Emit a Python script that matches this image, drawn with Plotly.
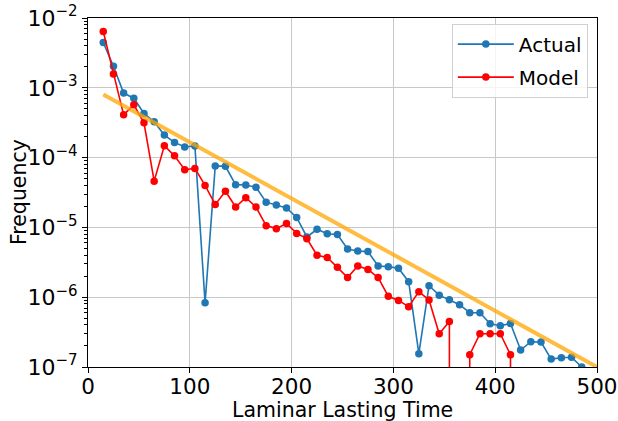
import numpy as np
import plotly.graph_objects as go

# Laminar lasting time bins (bin centres)
lasting_time = [15, 25, 35, 45, 55, 65, 75, 85, 95, 105,
                115, 125, 135, 145, 155, 165, 175, 185, 195, 205,
                215, 225, 235, 245, 255, 265, 275, 285, 295, 305,
                315, 325, 335, 345, 355, 365, 375, 385, 395, 405,
                415, 425, 435, 445, 455, 465, 475, 485]

# Observed frequency of each lasting time
actual_freq = [4.45e-3, 2.03e-3, 8.4e-4, 7.1e-4, 4.3e-4, 3.25e-4, 2.1e-4, 1.65e-4, 1.42e-4, 1.47e-4,
               8.3e-7, 7.6e-5, 7.5e-5, 4.1e-5, 4.05e-5, 3.75e-5, 2.3e-5, 2.1e-5, 1.9e-5, 1.39e-5,
               7.3e-6, 9.4e-6, 8.1e-6, 7.9e-6, 4.9e-6, 4.6e-6, 4.5e-6, 2.8e-6, 2.74e-6, 2.6e-6,
               1.67e-6, 1.55e-7, 1.46e-6, 1.07e-6, 9.2e-7, 7.8e-7, 6.0e-7, 6.0e-7, 4.16e-7, 3.9e-7,
               4.2e-7, 1.75e-7, 2.3e-7, 2.28e-7, 1.3e-7, 1.36e-7, 1.38e-7, 1.0e-7]

# Frequency predicted by the model
model_freq = [6.4e-3, 1.58e-3, 4.1e-4, 5.7e-4, 3.15e-4, 4.6e-5, 1.48e-4, 1.06e-4, 6.7e-5, 7.0e-5,
              4.0e-5, 2.12e-5, 3.3e-5, 1.96e-5, 2.67e-5, 1.96e-5, 1.06e-5, 9.6e-6, 1.14e-5, 8.2e-6,
              6.9e-6, 4.0e-6, 3.7e-6, 2.68e-6, 1.91e-6, 2.8e-6, 2.5e-6, 1.91e-6, 1.03e-6, 9.0e-7,
              7.3e-7, 1.2e-6, 9.1e-7, 3.0e-7, 4.5e-7, 0.0, 1.5e-7, 3.0e-7, 3.0e-7, 3.0e-7,
              1.5e-7, 0.0, 0.0, 0.0, 0.0, 0.0, 0.0, 0.0]

# Exponential decay fit (straight line on the log axis)
fit_time = [15, 500]
fit_freq = [8.0e-4, 1.0e-7]

x_ticks = [0, 100, 200, 300, 400, 500]
y_tick_exponents = [-7, -6, -5, -4, -3, -2]


def clip_nonpositive(values, floor=1e-300):
    # zero counts cannot be shown on a log axis; clip them far below the view
    arr = np.asarray(values, dtype=float)
    return np.where(arr > 0, arr, floor)


FONT = "DejaVu Sans"

y_tickvals = [10.0 ** e for e in y_tick_exponents]
y_ticktext = ["10<sup><span style='font-size:15px'>\u2212%d</span></sup>" % -e
              for e in y_tick_exponents]

fig = go.Figure()

fig.add_trace(go.Scatter(
    x=lasting_time, y=clip_nonpositive(actual_freq), name="Actual",
    legendgroup="actual",
    mode="lines+markers",
    line=dict(color="#1f77b4", width=1.6),
    marker=dict(color="#1f77b4", size=7.5),
))
fig.add_trace(go.Scatter(
    x=lasting_time, y=clip_nonpositive(model_freq), name="Model",
    legendgroup="model",
    mode="lines+markers",
    line=dict(color="#ff0000", width=1.6),
    marker=dict(color="#ff0000", size=7.5),
))
fig.add_trace(go.Scatter(
    x=fit_time, y=fit_freq, name="Fit", showlegend=False,
    mode="lines",
    line=dict(color="rgba(255,165,0,0.75)", width=4),
))

fig.update_layout(
    width=618, height=421,
    margin=dict(l=88, r=21, t=18, b=54, autoexpand=False),
    paper_bgcolor="white", plot_bgcolor="white",
    font=dict(family=FONT, color="black", size=18),
    showlegend=True,
    legend=dict(
        x=0.982, y=0.984, xanchor="right", yanchor="top",
        bgcolor="rgba(255,255,255,0.8)",
        bordercolor="#d0d0d0", borderwidth=1,
        font=dict(size=20, family=FONT),
        tracegroupgap=4,
        itemwidth=56,
    ),
    annotations=[
        # axis titles
        dict(text="Laminar Lasting Time", xref="paper", yref="paper",
             x=0.5, y=-0.1245, xanchor="center", yanchor="middle",
             showarrow=False, font=dict(size=20.5, family=FONT)),
        dict(text="Frequency", xref="paper", yref="paper",
             x=-0.1365, y=0.5, xanchor="center", yanchor="middle",
             textangle=-90, showarrow=False, font=dict(size=20.5, family=FONT)),
    ],
)

fig.update_xaxes(
    range=[0, 500],
    tickvals=x_ticks,
    automargin=False,
    ticks="outside", ticklen=5, tickwidth=1, tickcolor="black",
    ticklabelstandoff=-5,
    showline=True, linecolor="black", linewidth=1, mirror=True,
    showgrid=True, gridcolor="#c8c8c8", gridwidth=1,
    zeroline=False,
    tickfont=dict(size=21.5),
)

fig.update_yaxes(
    type="log",
    range=[-7, -2],
    tickvals=y_tickvals,
    ticktext=y_ticktext,
    automargin=False,
    ticklabeloverflow="allow",
    ticks="outside", ticklen=5, tickwidth=1, tickcolor="black",
    minor=dict(ticks="outside", ticklen=3, tickcolor="black", dtick="D1", showgrid=False),
    showline=True, linecolor="black", linewidth=1, mirror=True,
    showgrid=True, gridcolor="#c8c8c8", gridwidth=1,
    zeroline=False,
    tickfont=dict(size=22),
)

fig.write_html("out.html")
